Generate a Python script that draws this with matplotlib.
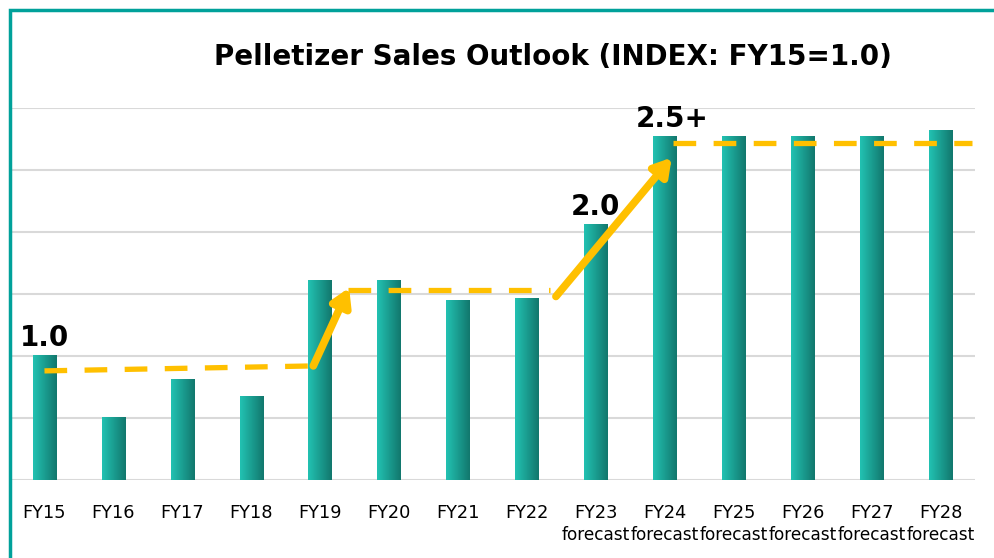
import numpy as np
import matplotlib
matplotlib.use('Agg')
import matplotlib.pyplot as plt
from matplotlib.colors import LinearSegmentedColormap
from matplotlib.patches import Rectangle

years = ['FY15', 'FY16', 'FY17', 'FY18', 'FY19', 'FY20', 'FY21',
         'FY22', 'FY23', 'FY24', 'FY25', 'FY26', 'FY27', 'FY28']
forecast_from = 'FY23'
index_values = [1.0, 0.5, 0.81, 0.67, 1.61, 1.61, 1.45,
                1.46, 2.06, 2.77, 2.77, 2.77, 2.77, 2.82]

# trend guide (dashed levels and step arrows), in bar-index / index units
level_x = [(0.0, 3.9), (4.4, 7.33), (9.12, 13.46)]
level_y = [(0.88, 0.92), (1.53, 1.53), (2.72, 2.72)]
step_from = [(3.9, 0.92), (7.42, 1.48)]
step_to = [(4.42, 1.55), (9.1, 2.6)]
callouts = [(0, 1.0, '1.0'), (8, 2.06, '2.0'), (9.1, 2.77, '2.5+')]

gold = '#FFC000'
grad = LinearSegmentedColormap.from_list('teal', ['#22C2B2', '#12776D'])

fig = plt.figure(figsize=(9.94, 5.58), dpi=100)
W, H = 994, 558
ax = fig.add_axes([10 / W, 78 / H, 965 / W, 372 / H])

bar_w = 0.34
x = np.arange(len(years))
gimg = np.linspace(0, 1, 64).reshape(1, -1)
for xi, v in zip(x, index_values):
    ax.imshow(gimg, cmap=grad, aspect='auto', interpolation='bilinear',
              extent=(xi - bar_w / 2, xi + bar_w / 2, 0, v), zorder=2)

for (x0, x1), (y0, y1) in zip(level_x, level_y):
    ax.plot([x0, x1], [y0, y1], color=gold, lw=3.8, ls=(0, (4.3, 3.3)),
            solid_capstyle='butt', zorder=3)
for s, t in zip(step_from, step_to):
    ax.annotate('', xy=t, xytext=s,
                arrowprops=dict(arrowstyle='-|>,head_length=1.0,head_width=0.6',
                                color=gold, lw=5.5, shrinkA=0, shrinkB=0),
                zorder=4)

for i, v, txt in callouts:
    ax.text(i, v + 0.03, txt, ha='center', va='bottom', fontsize=20,
            fontweight='bold', zorder=5)

ax.set_xlim(-0.5, len(years) - 0.5)
ax.set_ylim(0, 3.0)
ax.set_yticks(np.arange(0, 3.01, 0.5))
ax.set_yticklabels([])
ax.yaxis.grid(True, color='#d9d9d9', lw=1.5, zorder=0)
ax.set_axisbelow(True)
ax.tick_params(left=False, bottom=False)
ax.tick_params(axis='x', pad=14, labelsize=12.8)
ax.set_xticks(x)
ax.set_xticklabels(years)
fc = years.index(forecast_from)
for i in x[fc:]:
    ax.text(i, -55 / 372, 'forecast', transform=ax.get_xaxis_transform(),
            ha='center', va='center', fontsize=12.2, clip_on=False)
for s in ax.spines.values():
    s.set_visible(False)

fig.text(553 / W, 1 - 57 / H, 'Pelletizer Sales Outlook (INDEX: FY15=1.0)',
         ha='center', va='center', fontsize=20, fontweight='bold')

fig.patches.append(Rectangle((10 / W, -0.1), 1.2, 1.1 - 10 / H, fill=False,
                             edgecolor='#00A19A', lw=2.5, transform=fig.transFigure))

fig.savefig('out.png', dpi=100)
